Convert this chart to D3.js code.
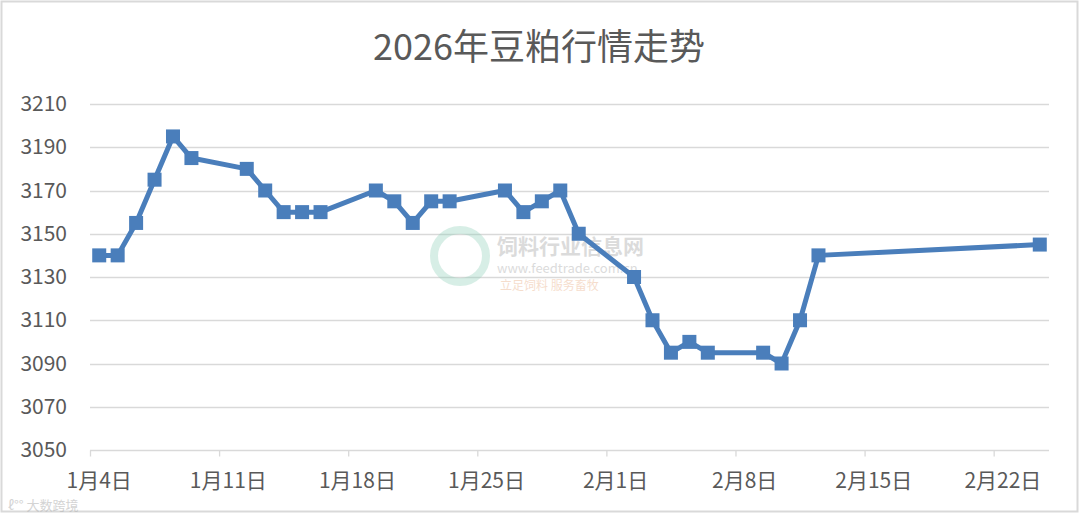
<!DOCTYPE html>
<html><head><meta charset="utf-8">
<script src="https://cdn.jsdelivr.net/npm/d3@7"></script>
<style>html,body{margin:0;padding:0;background:#fff;}svg{display:block;}</style>
</head><body>
<svg id="c" width="1080" height="515"></svg>
<script>
const title = "2026年豆粕行情走势";
const dates = ["2026-01-04","2026-01-05","2026-01-06","2026-01-07","2026-01-08","2026-01-09",
  "2026-01-12","2026-01-13","2026-01-14","2026-01-15","2026-01-16",
  "2026-01-19","2026-01-20","2026-01-21","2026-01-22","2026-01-23",
  "2026-01-26","2026-01-27","2026-01-28","2026-01-29","2026-01-30",
  "2026-02-02","2026-02-03","2026-02-04","2026-02-05","2026-02-06",
  "2026-02-09","2026-02-10","2026-02-11","2026-02-12","2026-02-24"];
const prices = [3140,3140,3155,3175,3195,3185,
  3180,3170,3160,3160,3160,
  3170,3165,3155,3165,3165,
  3170,3160,3165,3170,3150,
  3130,3110,3095,3100,3095,
  3095,3090,3110,3140,3145];
const yTicks = [3050,3070,3090,3110,3130,3150,3170,3190,3210];
const xTickDates = ["2026-01-04","2026-01-11","2026-01-18","2026-01-25","2026-02-01","2026-02-08","2026-02-15","2026-02-22"];
const xTickLabels = ["1月4日","1月11日","1月18日","1月25日","2月1日","2月8日","2月15日","2月22日"];

const svg = d3.select("#c");
const font = "'Noto Sans CJK SC','Noto Sans',sans-serif";
const txt = "#595959", grid = "#d9d9d9", blue = "#4a7ebb";
const H = 12*3600*1000;
const parse = s => new Date(s + "T00:00:00Z");

svg.append("rect").attr("x",1.5).attr("y",1.5).attr("width",1076).attr("height",510)
  .attr("fill","#fff").attr("stroke",grid).attr("stroke-width",2);

const x = d3.scaleUtc().domain([parse("2026-01-04"), parse("2026-02-25")]).range([90,1049]);
const y = d3.scaleLinear().domain([3050,3210]).range([450,104]);

svg.append("text").attr("x",539).attr("y",60).attr("text-anchor","middle")
  .attr("font-family",font).attr("font-size",36).attr("fill",txt).text(title);

// gridlines
svg.append("g").selectAll("line").data(yTicks.slice(1)).join("line")
  .attr("x1",90).attr("x2",1049).attr("y1",d=>Math.round(y(d))+0.5).attr("y2",d=>Math.round(y(d))+0.5)
  .attr("stroke",grid).attr("stroke-width",1.3);

// y axis labels
const ya = svg.append("g").attr("transform","translate(90,0)")
  .call(d3.axisLeft(y).tickValues(yTicks).tickSize(0).tickPadding(23).tickFormat(d3.format("d")));
ya.select(".domain").remove();
ya.selectAll("text").attr("font-family",font).attr("font-size",21).attr("fill",txt);

// x axis
const xa = svg.append("g").attr("transform",`translate(0,${Math.round(y(3050))+0.5})`)
  .call(d3.axisBottom(x).tickValues(xTickDates.map(parse)).tickSize(6).tickFormat(""));
xa.select(".domain").attr("stroke",grid).attr("stroke-width",1.3).attr("d","M90,0H1049");
xa.selectAll(".tick line").attr("stroke",grid).attr("stroke-width",1.3);
const xl = svg.append("g");
xl.selectAll("text").data(xTickDates).join("text")
  .attr("x",(d)=>x(new Date(parse(d).getTime()+H))).attr("y",488)
  .attr("text-anchor","middle").attr("font-family",font).attr("font-size",21).attr("fill",txt)
  .text((d,i)=>xTickLabels[i]);

// watermarks (faint)
const wm = svg.append("g").attr("opacity",0.35);
wm.append("circle").attr("cx",460).attr("cy",256).attr("r",26).attr("fill","none").attr("stroke","#8fd0b8").attr("stroke-width",8);
wm.append("text").attr("x",497).attr("y",254).attr("font-family",font).attr("font-size",21).attr("font-weight","bold").attr("fill","#9a9a9a").text("饲料行业信息网");
wm.append("text").attr("x",497).attr("y",273).attr("font-family",font).attr("font-size",13).attr("fill","#9a9a9a").text("www.feedtrade.com.cn");
wm.append("text").attr("x",500).attr("y",290).attr("font-family",font).attr("font-size",12).attr("fill","#e5a070").text("立足饲料   服务畜牧");
const wm2 = svg.append("g").attr("opacity",0.5);
wm2.append("text").attr("x",8).attr("y",510).attr("font-family",font).attr("font-size",13).attr("fill","#aaa").text("ℓ°° 大数跨境");

const pts = dates.map((d,i)=>({t:new Date(parse(d).getTime()+H), v:prices[i]}));
svg.append("path").datum(pts)
  .attr("d", d3.line().x(d=>x(d.t)).y(d=>y(d.v)))
  .attr("fill","none").attr("stroke",blue).attr("stroke-width",5).attr("stroke-linejoin","round");
svg.append("g").selectAll("rect").data(pts).join("rect")
  .attr("x",d=>x(d.t)-7).attr("y",d=>y(d.v)-7).attr("width",14).attr("height",14).attr("fill",blue);
</script>
</body></html>
